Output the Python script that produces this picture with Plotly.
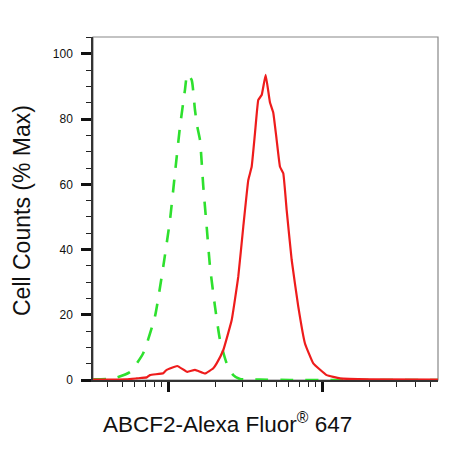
import plotly.graph_objects as go

# Isotype control (green dashed)
iso_x = [321, 400, 460, 560, 680, 810, 918, 1015, 1094, 1179, 1270, 1315, 1404, 1475,
         1527, 1590, 1670, 1757, 1846, 1990, 2144, 2370, 2615, 2891, 3900, 6100, 12300, 55800]
iso_y = [0.2, 0.3, 0.8, 2.5, 8.2, 19.4, 34.8, 49.1, 63.5, 77.7, 89.0, 93.9, 92.0, 82.8,
         77.7, 73.6, 59.3, 47.0, 34.8, 22.5, 12.3, 5.1, 1.5, 0.3, 0.1, 0.0, 0.0, 0.0]

# ABCF2 staining (red solid)
abcf2_x = [321, 531, 617, 717, 752, 918, 966, 1132, 1315, 1475, 1713, 1940, 2040, 2253,
           2554, 2818, 3037, 3273, 3443, 3618, 3801, 3999, 4245, 4528, 4756, 5004, 5258,
           5523, 5811, 6264, 6912, 7641, 8650, 10570, 12894, 20190, 55800]
abcf2_y = [0.1, 0.2, 0.5, 0.8, 1.5, 2.1, 3.1, 4.3, 2.5, 3.1, 2.0, 3.6, 5.1, 9.2,
           18.4, 31.7, 47.0, 61.3, 65.4, 75.7, 85.9, 87.4, 93.6, 85.1, 82.0, 73.6, 65.4,
           63.4, 52.1, 36.8, 22.5, 11.2, 5.1, 1.5, 0.5, 0.2, 0.1]

y_ticks = [0, 20, 40, 60, 80, 100]
x_major = [1000, 10000]
x_minor = [400, 500, 600, 700, 800, 900, 2000, 3000, 4000, 5000, 6000, 7000, 8000, 9000,
           20000, 30000, 40000, 50000]

FONT = "Arial, Liberation Sans, sans-serif"

fig = go.Figure()
fig.add_trace(go.Scatter(x=iso_x, y=iso_y, mode="lines",
                         line=dict(color="#2ee02e", width=2.6, dash="13px,12px", shape="spline", smoothing=0.5),
                         showlegend=False, hoverinfo="skip"))
fig.add_trace(go.Scatter(x=abcf2_x, y=abcf2_y, mode="lines",
                         line=dict(color="#ee1c1c", width=2.2, shape="spline", smoothing=0.3),
                         showlegend=False, hoverinfo="skip"))

fig.update_layout(
    width=455, height=443,
    margin=dict(l=85, r=25, t=29, b=71),
    paper_bgcolor="white", plot_bgcolor="white",
    font=dict(family=FONT, color="#111"),
    xaxis=dict(type="log", range=[2.5065, 4.747],
               tickmode="array", tickvals=x_major, ticktext=["", ""],
               ticks="outside", ticklen=10, tickwidth=2.5, tickcolor="#111",
               minor=dict(tickmode="array", tickvals=x_minor, ticks="outside",
                          ticklen=5, tickwidth=1.2, tickcolor="#222", showgrid=False),
               showgrid=False, zeroline=False,
               showline=True, linecolor="#333", linewidth=1.5),
    yaxis=dict(range=[0, 105.2],
               tickmode="array", tickvals=y_ticks,
               ticks="outside", ticklen=10, tickwidth=2.5, tickcolor="#111",
               tickfont=dict(size=12, color="#111", family=FONT),
               ticklabelstandoff=6,
               minor=dict(dtick=5, ticks="outside", ticklen=5, tickwidth=1.2,
                          tickcolor="#222", showgrid=False),
               showgrid=False, zeroline=False,
               showline=True, linecolor="#333", linewidth=1.5),
    shapes=[dict(type="rect", xref="paper", yref="paper", x0=0, x1=1, y0=0, y1=1,
                 line=dict(color="#888", width=1.2), layer="below")],
    annotations=[
        dict(text="ABCF2-Alexa Fluor<sup>®</sup> 647", xref="paper", yref="paper",
             x=(227.5 - 93) / 345, y=-(423 - 380) / 343, xanchor="center", yanchor="middle",
             showarrow=False, font=dict(size=22.5, family=FONT, color="#111")),
        dict(text="Cell Counts (% Max)", xref="paper", yref="paper",
             x=(22 - 93) / 345, y=(380 - 211) / 343, xanchor="center", yanchor="middle",
             textangle=-90, showarrow=False, font=dict(size=23, family=FONT, color="#111")),
    ],
)

fig.write_html("out.html")
